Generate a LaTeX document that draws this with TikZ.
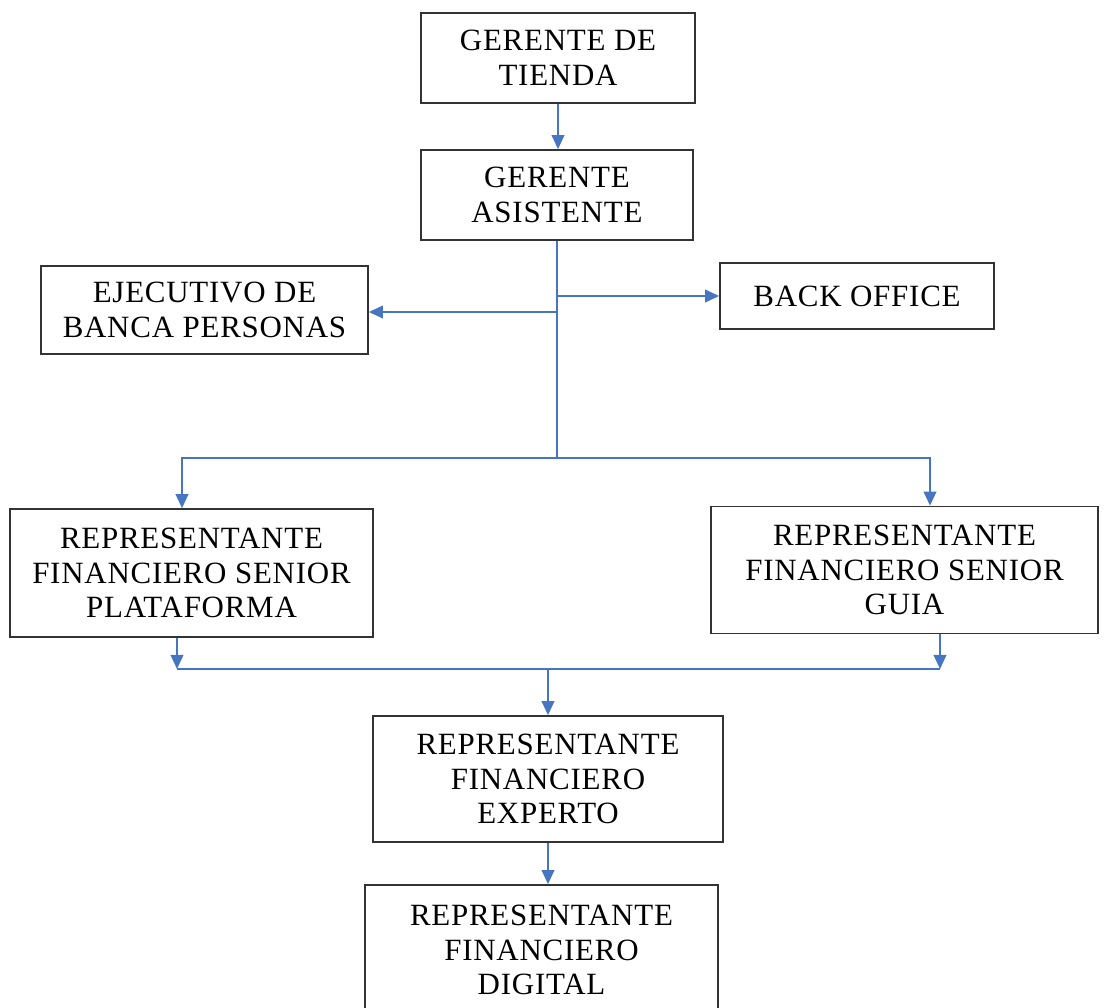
\documentclass[tikz,border=0pt]{standalone}
\usepackage{fontspec}
\setmainfont[LetterSpace=2.5]{Liberation Serif}
\usepackage{xcolor}
\definecolor{lnblue}{RGB}{70,117,193}
\usetikzlibrary{arrows.meta,positioning}

\begin{document}
\begin{tikzpicture}[x=0.025cm,y=-0.025cm,>={Triangle[length=10pt,width=9pt]},
  bx/.style={draw=black!80,line width=1.2pt,align=center,inner sep=0pt,font=\fontsize{22}{24.5}\selectfont},
  ln/.style={draw=lnblue,line width=1.3pt}]
\useasboundingbox (0,0) rectangle (1105,1007);
\node[bx,minimum width=6.85cm,minimum height=2.25cm] (tienda) at (558,58) {GERENTE DE\\TIENDA};
\node[bx,minimum width=6.8cm,minimum height=2.25cm] (asist) at (557,195) {GERENTE\\ASISTENTE};
\node[bx,minimum width=8.175cm,minimum height=2.2cm] (ejec) at (204.5,310) {EJECUTIVO DE\\BANCA PERSONAS};
\node[bx,minimum width=6.85cm,minimum height=1.65cm] (back) at (857,296) {BACK OFFICE};
\node[bx,minimum width=9.075cm,minimum height=3.2cm] (plat) at (191.5,573) {REPRESENTANTE\\FINANCIERO SENIOR\\PLATAFORMA};
\node[bx,minimum width=9.675cm,minimum height=3.175cm] (guia) at (904.5,570) {REPRESENTANTE\\FINANCIERO SENIOR\\GUIA};
\node[bx,minimum width=8.75cm,minimum height=3.15cm] (experto) at (548,779) {REPRESENTANTE\\FINANCIERO\\EXPERTO};
\node[bx,minimum width=8.825cm,minimum height=3.25cm] (digital) at (541.5,950) {REPRESENTANTE\\FINANCIERO\\DIGITAL};
\coordinate (hub) at (557,458);
\coordinate (jr) at (557,296);
\coordinate (jl) at (557,312);
\coordinate (hl) at (182,458);
\coordinate (hr) at (930,458);
\coordinate (bl) at (177,669);
\coordinate (br) at (940,669);
\coordinate (bm) at (548,669);
\draw[ln,->] (tienda.south) -- (tienda.south |- asist.north);
\draw[ln] (asist.south) -- (hub);
\draw[ln,->] (jr) -- (jr -| back.west);
\draw[ln,->] (jl) -- (jl -| ejec.east);
\draw[ln,->] (hub) -| (hl |- plat.north);
\draw[ln,->] (hub) -| (hr |- guia.north);
\draw[ln,->] (bl |- plat.south) -- (bl);
\draw[ln,->] (br |- guia.south) -- (br);
\draw[ln] (bl) -- (br);
\draw[ln,->] (bm) -- (bm |- experto.north);
\draw[ln,->] (experto.south) -- (experto.south |- digital.north);
\end{tikzpicture}
\end{document}
